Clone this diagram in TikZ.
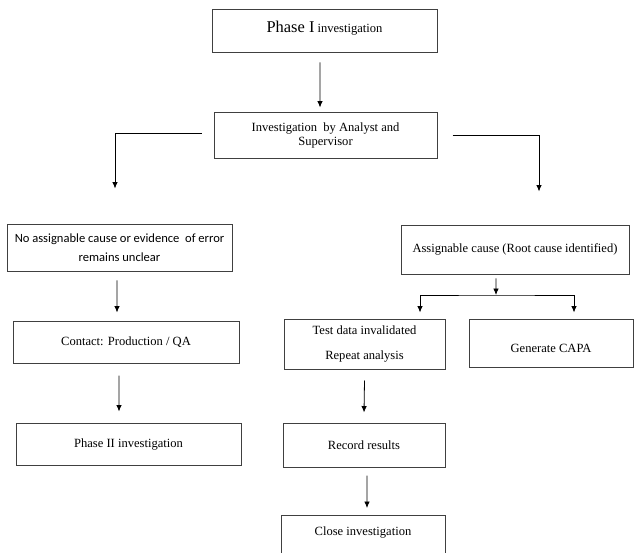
\documentclass[tikz,border=0pt]{standalone}
\usepackage{fontspec}
\setmainfont{Liberation Serif}
\newfontfamily\calibrifont{Carlito}
\usetikzlibrary{arrows.meta}

\begin{document}
\begin{tikzpicture}[
  x=1bp,y=-1bp,
  >={Latex[length=6.5pt,width=5.5pt]},
  every node/.style={font=\fontsize{12.6}{14.5}\selectfont},
  flow box/.style={rectangle,draw=black!75,line width=1pt,inner sep=2pt,align=center},
  flow line/.style={draw=black,line width=0.8pt},
]
\useasboundingbox (0,0) rectangle (634,553);
\node[flow box,minimum width=225bp,minimum height=43bp,text depth=9bp] (phaseI) at (324.5,31.5) {{\fontsize{16.5}{18}\selectfont Phase I} investigation};
\node[flow box,minimum width=223bp,minimum height=45bp] (invest) at (325.5,135.5) {Investigation \ by Analyst and\\Supervisor};
\node[flow box,minimum width=225bp,minimum height=47bp,font=\calibrifont\fontsize{12.6}{14.5}\selectfont] (noCause) at (119.5,247.5) {No assignable cause or evidence \ of error\\[4.5bp]remains unclear};
\node[flow box,minimum width=226bp,minimum height=42bp] (contact) at (126,342) {Contact: Production / QA};
\node[flow box,minimum width=225bp,minimum height=42bp] (phaseII) at (128.5,444) {Phase II investigation};
\node[flow box,minimum width=228bp,minimum height=49bp] (assign) at (515,249.5) {Assignable cause (Root cause identified)};
\node[flow box,minimum width=161bp,minimum height=50bp] (testData) at (364.5,344) {Test data invalidated\\[11.5bp]Repeat analysis};
\node[flow box,minimum width=164bp,minimum height=48bp,text height=18bp,text depth=0bp] (capa) at (551,343) {Generate CAPA};
\node[flow box,minimum width=162bp,minimum height=44bp] (record) at (364,445) {Record results};
\node[flow box,anchor=north,minimum width=164bp,minimum height=44bp,text depth=12bp] (close) at (363,515) {Close investigation};
\coordinate (split) at (496,295);
\draw[flow line,->] ([xshift=-4.5bp,yshift=-9bp]phaseI.south) -- ([xshift=-5.5bp,yshift=5bp]invest.north);
\draw[flow line,->] ([xshift=-12bp,yshift=2.5bp]invest.west) -| ([xshift=-4.5bp,yshift=35bp]noCause.north);
\draw[flow line,->] ([xshift=15bp]invest.east) -| ([xshift=24bp,yshift=33bp]assign.north);
\draw[flow line,->] ([xshift=-2.5bp,yshift=-9bp]noCause.south) -- ([xshift=-9bp,yshift=8bp]contact.north);
\draw[flow line,->] ([xshift=-7bp,yshift=-12bp]contact.south) -- ([xshift=-9.5bp,yshift=11bp]phaseII.north);
\draw[flow line,->] ([xshift=-19bp,yshift=-4bp]assign.south) -- (split);
\draw[flow line,<->] ([xshift=55.5bp,yshift=6bp]testData.north) |- (split) -| ([xshift=23bp,yshift=6bp]capa.north);
\draw[flow line,->] ([yshift=-11bp]testData.south) -- ([yshift=10bp]record.north);
\draw[flow line,->] ([xshift=3bp,yshift=-8bp]record.south) -- ([xshift=4bp,yshift=7bp]close.north);
\end{tikzpicture}
\end{document}
